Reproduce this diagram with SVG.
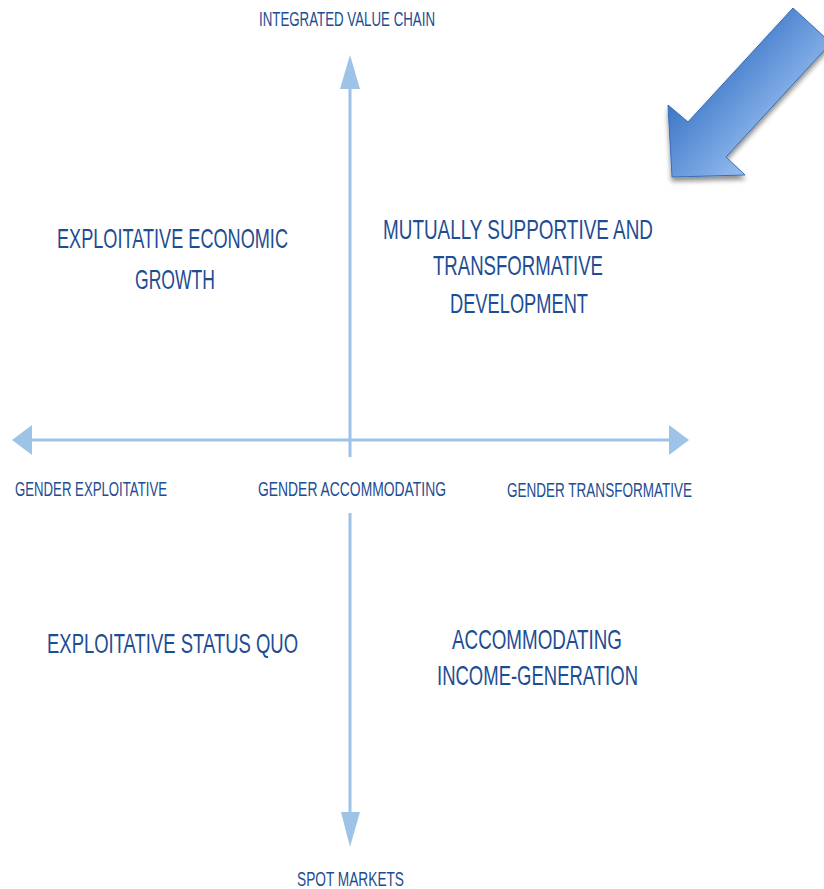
<svg xmlns="http://www.w3.org/2000/svg" width="824" height="889" viewBox="0 0 824 889">
  <style>
    .axis { stroke: #9dc3e6; stroke-width: 3; fill: none; }
    .head { fill: #9dc3e6; }
    .big { font-family: "Liberation Sans", Arial, sans-serif; font-size: 28px; fill: #1d4d93; }
    .small { font-family: "Liberation Sans", Arial, sans-serif; font-size: 19.5px; fill: #1d4d93; }
  </style>
  <defs>
    <linearGradient id="blockFill" gradientUnits="userSpaceOnUse" x1="668" y1="105" x2="745" y2="175">
      <stop offset="0" stop-color="#3b76c6"/>
      <stop offset="1" stop-color="#96bdf0"/>
    </linearGradient>
    <filter id="softShadow" x="-20%" y="-20%" width="140%" height="140%">
      <feGaussianBlur in="SourceAlpha" stdDeviation="2.5"/>
      <feOffset dx="0" dy="4" result="blur"/>
      <feComponentTransfer><feFuncA type="linear" slope="0.45"/></feComponentTransfer>
      <feMerge><feMergeNode/><feMergeNode in="SourceGraphic"/></feMerge>
    </filter>
  </defs>

  <rect width="824" height="889" fill="#ffffff"/>

  <!-- axes -->
  <g id="connectors">
    <line class="axis" x1="30" y1="440" x2="671" y2="440"/>
    <polygon class="head" points="12,440 32,425 32,455"/>
    <polygon class="head" points="689,440 669,425 669,455"/>
    <line class="axis" x1="350" y1="86" x2="350" y2="457"/>
    <polygon class="head" points="350,55 340,89 360,89"/>
    <line class="axis" x1="350" y1="513" x2="350" y2="814"/>
    <polygon class="head" points="350,847 341,812 360,812"/>
  </g>

  <!-- pointer arrow -->
  <g id="pointer" filter="url(#softShadow)">
    <polygon points="793,8 831,43 726,157 745,175 672,177 668,105 688,122" fill="url(#blockFill)" stroke="#3a6db3" stroke-width="1"/>
  </g>

  <!-- axis labels -->
  <g id="label-top"><text class="small" x="259" y="26" textLength="176" lengthAdjust="spacingAndGlyphs">INTEGRATED VALUE CHAIN</text></g>
  <g id="label-left"><text class="small" x="15" y="496" textLength="152" lengthAdjust="spacingAndGlyphs">GENDER EXPLOITATIVE</text></g>
  <g id="label-center"><text class="small" x="258" y="496" textLength="188" lengthAdjust="spacingAndGlyphs">GENDER ACCOMMODATING</text></g>
  <g id="label-right"><text class="small" x="507" y="497" textLength="185" lengthAdjust="spacingAndGlyphs">GENDER TRANSFORMATIVE</text></g>
  <g id="label-bottom"><text class="small" x="297" y="886" textLength="107" lengthAdjust="spacingAndGlyphs">SPOT MARKETS</text></g>

  <!-- quadrants -->
  <g id="q-top-left">
    <text class="big" x="57" y="248" textLength="231" lengthAdjust="spacingAndGlyphs">EXPLOITATIVE ECONOMIC</text>
    <text class="big" x="135" y="289" textLength="80" lengthAdjust="spacingAndGlyphs">GROWTH</text>
  </g>
  <g id="q-top-right">
    <text class="big" x="383" y="239" textLength="270" lengthAdjust="spacingAndGlyphs">MUTUALLY SUPPORTIVE AND</text>
    <text class="big" x="433" y="275" textLength="170" lengthAdjust="spacingAndGlyphs">TRANSFORMATIVE</text>
    <text class="big" x="450" y="313" textLength="138" lengthAdjust="spacingAndGlyphs">DEVELOPMENT</text>
  </g>
  <g id="q-bottom-left">
    <text class="big" x="47" y="653" textLength="251" lengthAdjust="spacingAndGlyphs">EXPLOITATIVE STATUS QUO</text>
  </g>
  <g id="q-bottom-right">
    <text class="big" x="452" y="649" textLength="170" lengthAdjust="spacingAndGlyphs">ACCOMMODATING</text>
    <text class="big" x="437" y="685" textLength="201" lengthAdjust="spacingAndGlyphs">INCOME-GENERATION</text>
  </g>
</svg>
